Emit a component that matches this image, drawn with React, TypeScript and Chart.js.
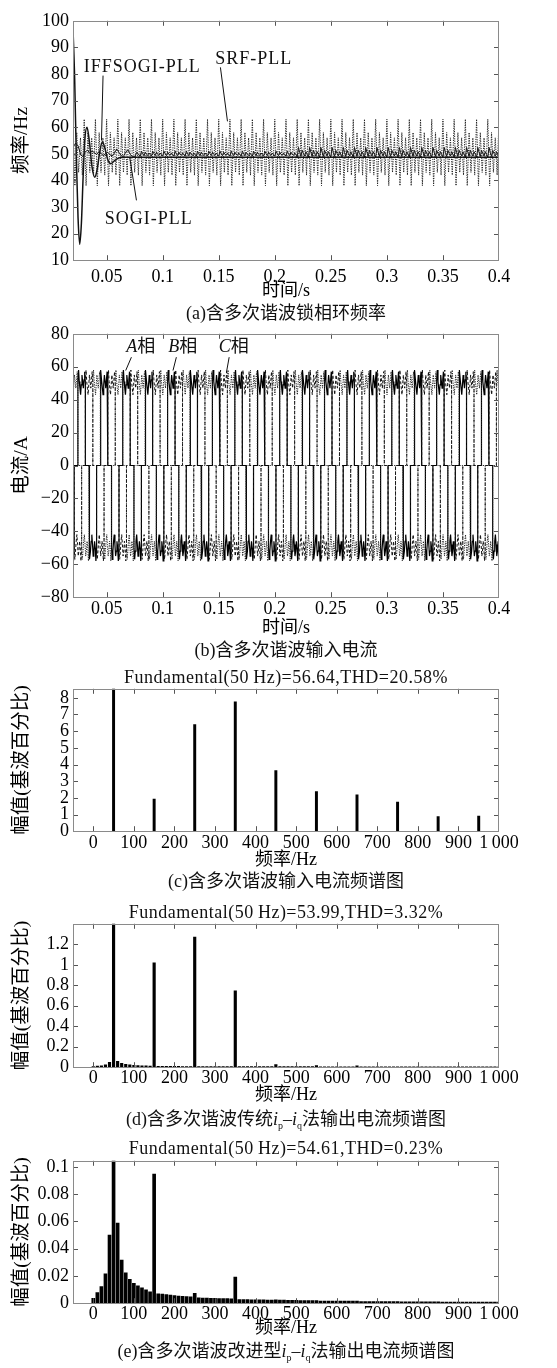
import React, { useEffect, useRef } from 'react';
import { Chart, registerables } from 'chart.js';

Chart.register(...registerables);

const SERIF = "'Liberation Serif', 'Noto Sans CJK SC', serif";

// ---------------- (a) PLL frequency ----------------
const TIME_MIN = 0.02;
const TIME_MAX = 0.4;
const TIME_TICKS = [0.05, 0.1, 0.15, 0.2, 0.25, 0.3, 0.35, 0.4];
const TIME_TICK_LABELS = ['0.05', '0.1', '0.15', '0.2', '0.25', '0.3', '0.35', '0.4'];
const PLL_Y_TICKS = [10, 20, 30, 40, 50, 60, 70, 80, 90, 100];
const PLL_Y_LABELS = ['10', '20', '30', '40', '50', '60', '70', '80', '90', '100'];

// SRF-PLL: one 0.01 s period of its steady ripple (Hz)
const SRF_PERIOD = 0.01;
const SRF_CYCLE = [63, 38, 58, 43, 56, 42];

// IFFSOGI-PLL transient (s, Hz)
const IFF_T = [0.02, 0.0215, 0.023, 0.0245, 0.026, 0.0275, 0.029, 0.0305, 0.0325, 0.0345, 0.037, 0.0394, 0.0415, 0.0438, 0.0462, 0.0485, 0.051, 0.0537, 0.0565, 0.06, 0.0645, 0.4];
const IFF_V = [97, 78, 48, 26, 16, 24, 41, 55, 60, 55, 45, 41.2, 44, 50.5, 54.5, 52, 47.8, 46.3, 47.2, 48.3, 48.7, 48.7];

// SOGI-PLL start-up (s, Hz) and its ripple periods afterwards
const SOGI_EARLY_T = [0.02, 0.0225, 0.0245, 0.027, 0.029, 0.031, 0.033, 0.035, 0.037, 0.039, 0.041, 0.043, 0.045, 0.047, 0.049, 0.051, 0.053, 0.055, 0.057, 0.059, 0.061, 0.063, 0.065, 0.067, 0.069, 0.071, 0.073, 0.075, 0.077, 0.0785];
const SOGI_EARLY_V = [52.5, 54, 53, 49.5, 49, 50.8, 51.3, 50.2, 51, 50.5, 49.7, 50.8, 50.2, 49.3, 50, 50.6, 49.6, 49.2, 50.3, 51.8, 50.5, 49.3, 49, 50.6, 51.5, 49.8, 49, 48.8, 50.6, 49.6];
const SOGI_PERIOD = 0.01;
const SOGI_MID_START = 0.08;
const SOGI_LATE_START = 0.22;
const SOGI_CYCLE_MID = [49.1, 51.0, 50.0, 49.3, 50.6, 49.8, 49.4, 50.3, 49.7];
const SOGI_CYCLE_LATE = [48.7, 52.4, 50.5, 49.0, 51.3, 50.1, 49.2, 50.8, 49.8];

// ---------------- (b) three-phase input current ----------------
const CUR_Y_TICKS = [-80, -60, -40, -20, 0, 20, 40, 60, 80];
const CUR_Y_LABELS = ['\u221280', '\u221260', '\u221240', '\u221220', '0', '20', '40', '60', '80'];
const CURRENT_PERIOD = 0.02;
const PHASE_A_T0 = 0.0227;
const POS_BLOCK = [52, 58, 51, 47, 43, 49, 55, 51, 47, 52, 57, 50];
const NEG_BLOCK = [-50, -57, -52, -46, -42, -48, -55, -52, -46, -50, -58, -51];

// ---------------- spectra ----------------
const HZ_TICKS = [0, 100, 200, 300, 400, 500, 600, 700, 800, 900, 1000];
const HZ_LABELS = ['0', '100', '200', '300', '400', '500', '600', '700', '800', '900', '1\u2009000'];
const HZ_MIN = -50;
const HZ_MAX = 1000;

const C_FREQ = [50, 150, 250, 350, 450, 550, 650, 750, 850, 950];
const C_AMP = [100, 1.92, 6.4, 7.76, 3.64, 2.38, 2.18, 1.74, 0.87, 0.91];
const C_Y_TICKS = [0, 1, 2, 3, 4, 5, 6, 7, 8];
const C_Y_LABELS = ['0', '1', '2', '3', '4', '5', '6', '7', '8'];

const BIN_STEP_HZ = 10;
const D_AMP = [
  0.006, 0.012, 0.014, 0.022, 0.048, 100, 0.058, 0.038, 0.028, 0.022,
  0.019, 0.016, 0.014, 0.013, 0.012, 1.02, 0.009, 0.009, 0.008, 0.008,
  0.008, 0.008, 0.007, 0.007, 0.007, 1.27, 0.007, 0.007, 0.007, 0.006,
  0.006, 0.006, 0.006, 0.006, 0.006, 0.746, 0.006, 0.005, 0.005, 0.005,
  0.005, 0.005, 0.005, 0.005, 0.005, 0.026, 0.005, 0.005, 0.005, 0.005,
  0.005, 0.005, 0.005, 0.005, 0.005, 0.015, 0.004, 0.004, 0.004, 0.004,
  0.004, 0.004, 0.004, 0.004, 0.004, 0.014, 0.004, 0.004, 0.004, 0.004,
  0.004, 0.004, 0.004, 0.004, 0.004, 0.004, 0.004, 0.004, 0.004, 0.004,
  0.003, 0.003, 0.003, 0.003, 0.003, 0.003, 0.003, 0.003, 0.003, 0.003,
  0.003, 0.003, 0.003, 0.003, 0.003, 0.003, 0.003, 0.003, 0.003, 0.003,
  0.003,
];
const D_Y_TICKS = [0, 0.2, 0.4, 0.6, 0.8, 1, 1.2];
const D_Y_LABELS = ['0', '0.2', '0.4', '0.6', '0.8', '1', '1.2'];

const E_AMP = [
  0.0035, 0.0078, 0.0122, 0.0215, 0.05, 100, 0.0587, 0.0316, 0.0222, 0.0175,
  0.0146, 0.0128, 0.0112, 0.0098, 0.0083, 0.0947, 0.0068, 0.0066, 0.0063, 0.0059,
  0.0055, 0.0052, 0.005, 0.0048, 0.0046, 0.0073, 0.004, 0.0038, 0.0037, 0.0036,
  0.0035, 0.0034, 0.0033, 0.0033, 0.0032, 0.0192, 0.0027, 0.0026, 0.0026, 0.0025,
  0.0025, 0.0024, 0.0024, 0.0023, 0.0023, 0.0025, 0.0022, 0.0022, 0.0021, 0.0021,
  0.0021, 0.002, 0.002, 0.002, 0.0019, 0.002, 0.0016, 0.0016, 0.0016, 0.0016,
  0.0015, 0.0015, 0.0015, 0.0015, 0.0015, 0.0016, 0.0012, 0.0012, 0.0012, 0.0012,
  0.0011, 0.0011, 0.0011, 0.0011, 0.0011, 0.0011, 0.001, 0.001, 0.001, 0.001,
  0.001, 0.001, 0.001, 0.001, 0.001, 0.001, 0.0009, 0.0009, 0.0009, 0.0009,
  0.0009, 0.0009, 0.0009, 0.0009, 0.0009, 0.0009, 0.0008, 0.0008, 0.0008, 0.0008,
  0.0008,
];
const E_Y_TICKS = [0, 0.02, 0.04, 0.06, 0.08, 0.1];
const E_Y_LABELS = ['0', '0.02', '0.04', '0.06', '0.08', '0.1'];

// ---------------- annotations (data coordinates) ----------------
type Note = { parts: { text: string; italic?: boolean }[]; at: [number, number]; from: [number, number]; to: [number, number]; spacing: string };
const PLL_NOTES: Note[] = [
  { parts: [{ text: 'IFFSOGI-PLL' }], at: [0.0818, 82.6], from: [0.0468, 79.4], to: [0.0454, 55], spacing: '1px' },
  { parts: [{ text: 'SRF-PLL' }], at: [0.1813, 85.6], from: [0.1515, 82.5], to: [0.1578, 62.2], spacing: '1px' },
  { parts: [{ text: 'SOGI-PLL' }], at: [0.0876, 25.4], from: [0.0766, 32.5], to: [0.0706, 48.7], spacing: '1px' },
];
const CUR_NOTES: Note[] = [
  { parts: [{ text: 'A', italic: true }, { text: '相' }], at: [0.0804, 71.7], from: [0.0721, 65.8], to: [0.067, 57.7], spacing: '0px' },
  { parts: [{ text: 'B', italic: true }, { text: '相' }], at: [0.1179, 71.7], from: [0.1122, 65.8], to: [0.1092, 57.7], spacing: '0px' },
  { parts: [{ text: 'C', italic: true }, { text: '相' }], at: [0.1634, 71.7], from: [0.1593, 65.8], to: [0.1569, 56.7], spacing: '0px' },
];

// ---------------- builders ----------------
function pairs(ts: number[], vs: number[]) {
  return ts.map((t, i) => ({ x: t, y: vs[i] }));
}
function tileCycle(cycle: number[], period: number, t0: number, t1: number) {
  const dt = period / cycle.length;
  const pts: { x: number; y: number }[] = [];
  for (let k = 0; ; k++) {
    const t = t0 + k * dt;
    if (t > t1 + 1e-9) break;
    pts.push({ x: t, y: cycle[k % cycle.length] });
  }
  return pts;
}
function buildPhase(shift: number) {
  const pts: { x: number; y: number }[] = [];
  const deg = CURRENT_PERIOD / 360;
  for (let k = -1; k <= 20; k++) {
    const base = PHASE_A_T0 + shift + k * CURRENT_PERIOD;
    const ps = base + 30 * deg, pe = base + 150 * deg;
    pts.push({ x: ps, y: 0 });
    POS_BLOCK.forEach((v, i) => pts.push({ x: ps + ((pe - ps) * i) / (POS_BLOCK.length - 1), y: v }));
    pts.push({ x: pe, y: 0 });
    const ns = base + 210 * deg, ne = base + 330 * deg;
    pts.push({ x: ns, y: 0 });
    NEG_BLOCK.forEach((v, i) => pts.push({ x: ns + ((ne - ns) * i) / (NEG_BLOCK.length - 1), y: v }));
    pts.push({ x: ne, y: 0 });
  }
  return pts;
}
function bins(amps: number[]) {
  return amps.map((v, i) => ({ x: i * BIN_STEP_HZ, y: v }));
}

// ---------------- layout ----------------
const W = 557;
const PLOT_LEFT = 73;
const PLOT_RIGHT = 499;
const PAD_TOP = 14;
const PAD_BOTTOM = 4;
const HALF_LINE = 10.8;

type Panel = { plotTop: number; plotBottom: number; xTick: number; xTitle: number };
const PANELS: Panel[] = [
  { plotTop: 20, plotBottom: 260, xTick: 277, xTitle: 291 },
  { plotTop: 333, plotBottom: 597, xTick: 609, xTitle: 628 },
  { plotTop: 688, plotBottom: 831, xTick: 843, xTitle: 860 },
  { plotTop: 923, plotBottom: 1067, xTick: 1078, xTitle: 1095 },
  { plotTop: 1160, plotBottom: 1303, xTick: 1313, xTitle: 1328 },
];
function geo(p: Panel) {
  const H = p.xTitle - p.plotBottom + HALF_LINE;
  const pad = Math.max(0, p.xTick - p.plotBottom - HALF_LINE);
  return { top: p.plotTop - PAD_TOP, height: Math.round(PAD_TOP + (p.plotBottom - p.plotTop) + H + PAD_BOTTOM), H, pad };
}

const font = (size: number) => ({ family: SERIF, size, lineHeight: 1.2 });

function xAxis(min: number, max: number, ticks: number[], labels: string[], title: string, p: Panel) {
  const g = geo(p);
  return {
    type: 'linear', min, max, bounds: 'data', offset: false,
    grid: { display: false, drawTicks: false, offset: false },
    border: { display: false },
    ticks: { padding: g.pad, color: '#000', font: font(18), maxRotation: 0, autoSkip: false, callback: (_v: any, i: number) => labels[i] ?? '' },
    afterBuildTicks: (s: any) => { s.ticks = ticks.map((v) => ({ value: v })); },
    afterFit: (s: any) => { s.height = g.H; },
    title: { display: true, text: title, color: '#000', font: font(18), padding: 0 },
  };
}
function yAxis(min: number, max: number, ticks: number[], labels: string[], title: string) {
  return {
    type: 'linear', min, max, bounds: 'data',
    grid: { display: false, drawTicks: false },
    border: { display: false },
    ticks: { padding: 4, color: '#000', font: font(18), autoSkip: false, callback: (_v: any, i: number) => labels[i] ?? '' },
    afterBuildTicks: (s: any) => { s.ticks = ticks.map((v) => ({ value: v })); },
    afterFit: (s: any) => { s.width = PLOT_LEFT; },
    title: { display: true, text: title, color: '#000', font: font(19.5), padding: { top: 10, bottom: 0 } },
  };
}

const framePlugin = {
  id: 'matlabFrame',
  afterDatasetsDraw(chart: any) {
    const { ctx, chartArea: a, scales } = chart;
    const xs = scales.x, ys = scales.y;
    const L = 5;
    ctx.save();
    ctx.strokeStyle = '#555';
    ctx.lineWidth = 1;
    ctx.beginPath();
    for (const t of xs.ticks) {
      const px = Math.round(xs.getPixelForValue(t.value)) + 0.5;
      if (px <= a.left + 2 || px >= a.right - 2) continue;
      ctx.moveTo(px, a.bottom); ctx.lineTo(px, a.bottom - L);
      ctx.moveTo(px, a.top); ctx.lineTo(px, a.top + L);
    }
    for (const t of ys.ticks) {
      const py = Math.round(ys.getPixelForValue(t.value)) + 0.5;
      if (py <= a.top + 2 || py >= a.bottom - 2) continue;
      ctx.moveTo(a.left, py); ctx.lineTo(a.left + L, py);
      ctx.moveTo(a.right, py); ctx.lineTo(a.right - L, py);
    }
    ctx.stroke();
    ctx.strokeStyle = '#8a8a8a';
    ctx.strokeRect(Math.round(a.left) + 0.5, Math.round(a.top) + 0.5, Math.round(a.right - a.left) - 1, Math.round(a.bottom - a.top));
    ctx.restore();
  },
};

function notesPlugin(notes: Note[]) {
  return {
    id: 'notes',
    afterDatasetsDraw(chart: any) {
      const { ctx, scales: { x, y } } = chart;
      ctx.save();
      ctx.strokeStyle = '#111';
      ctx.fillStyle = '#111';
      ctx.lineWidth = 1;
      ctx.textBaseline = 'middle';
      ctx.textAlign = 'left';
      for (const n of notes) {
        ctx.beginPath();
        ctx.moveTo(x.getPixelForValue(n.from[0]), y.getPixelForValue(n.from[1]));
        ctx.lineTo(x.getPixelForValue(n.to[0]), y.getPixelForValue(n.to[1]));
        ctx.stroke();
        const cx = x.getPixelForValue(n.at[0]);
        const cy = y.getPixelForValue(n.at[1]);
        (ctx as any).letterSpacing = n.spacing;
        const fonts = n.parts.map((p) => `${p.italic ? 'italic ' : ''}18px ${SERIF}`);
        const widths = n.parts.map((p, i) => { ctx.font = fonts[i]; return ctx.measureText(p.text).width; });
        let px = cx - widths.reduce((s, w) => s + w, 0) / 2;
        n.parts.forEach((p, i) => { ctx.font = fonts[i]; ctx.fillText(p.text, px, cy); px += widths[i]; });
      }
      ctx.restore();
    },
  };
}

const baseOptions = {
  responsive: false,
  animation: false,
  devicePixelRatio: 1,
  events: [],
  layout: { padding: { top: PAD_TOP, right: W - PLOT_RIGHT, bottom: PAD_BOTTOM, left: 0 } },
  plugins: { legend: { display: false }, tooltip: { enabled: false } },
};

function makeConfigs(): any[] {
  const srf = tileCycle(SRF_CYCLE, SRF_PERIOD, TIME_MIN, TIME_MAX);
  const sogi = [
    ...pairs(SOGI_EARLY_T, SOGI_EARLY_V),
    ...tileCycle(SOGI_CYCLE_MID, SOGI_PERIOD, SOGI_MID_START, SOGI_LATE_START - 1e-4),
    ...tileCycle(SOGI_CYCLE_LATE, SOGI_PERIOD, SOGI_LATE_START, TIME_MAX),
  ];
  const iff = pairs(IFF_T, IFF_V);

  const cfgA = {
    type: 'line',
    data: {
      datasets: [
        { label: 'SRF-PLL', data: srf, borderColor: '#222', borderWidth: 1, borderDash: [1.2, 1.2], pointRadius: 0, tension: 0 },
        { label: 'SOGI-PLL', data: sogi, borderColor: '#111', borderWidth: 1, pointRadius: 0, tension: 0 },
        { label: 'IFFSOGI-PLL', data: iff, borderColor: '#111', borderWidth: 1.5, pointRadius: 0, cubicInterpolationMode: 'monotone' },
      ],
    },
    options: {
      ...baseOptions,
      scales: {
        x: xAxis(TIME_MIN, TIME_MAX, TIME_TICKS, TIME_TICK_LABELS, '时间/s', PANELS[0]),
        y: yAxis(10, 100, PLL_Y_TICKS, PLL_Y_LABELS, '频率/Hz'),
      },
    },
    plugins: [notesPlugin(PLL_NOTES), framePlugin],
  };

  const third = CURRENT_PERIOD / 3;
  const cfgB = {
    type: 'line',
    data: {
      datasets: [
        { label: 'C', data: buildPhase(2 * third), borderColor: '#222', borderWidth: 1, borderDash: [1.2, 1.2], pointRadius: 0, tension: 0 },
        { label: 'B', data: buildPhase(third), borderColor: '#111', borderWidth: 1, borderDash: [3, 2], pointRadius: 0, tension: 0 },
        { label: 'A', data: buildPhase(0), borderColor: '#000', borderWidth: 1.2, pointRadius: 0, tension: 0 },
      ],
    },
    options: {
      ...baseOptions,
      scales: {
        x: xAxis(TIME_MIN, TIME_MAX, TIME_TICKS, TIME_TICK_LABELS, '时间/s', PANELS[1]),
        y: yAxis(-80, 80, CUR_Y_TICKS, CUR_Y_LABELS, '电流/A'),
      },
    },
    plugins: [notesPlugin(CUR_NOTES), framePlugin],
  };

  const barCfg = (data: any[], thickness: number, yMax: number, ticks: number[], labels: string[], p: Panel) => ({
    type: 'bar',
    data: { datasets: [{ data, backgroundColor: '#000', borderWidth: 0, barThickness: thickness, clip: 0 }] },
    options: {
      ...baseOptions,
      scales: {
        x: xAxis(HZ_MIN, HZ_MAX, HZ_TICKS, HZ_LABELS, '频率/Hz', p),
        y: yAxis(0, yMax, ticks, labels, '幅值(基波百分比)'),
      },
    },
    plugins: [framePlugin],
  });

  const cfgC = barCfg(C_FREQ.map((f, i) => ({ x: f, y: C_AMP[i] })), 2.3, 8.54, C_Y_TICKS, C_Y_LABELS, PANELS[2]);
  const cfgD = barCfg(bins(D_AMP), 2.5, 1.4, D_Y_TICKS, D_Y_LABELS, PANELS[3]);
  const cfgE = barCfg(bins(E_AMP), 3, 0.1044, E_Y_TICKS, E_Y_LABELS, PANELS[4]);
  return [cfgA, cfgB, cfgC, cfgD, cfgE];
}

const TEXT_STYLE: React.CSSProperties = {
  position: 'absolute',
  left: 0,
  width: 2 * ((PLOT_LEFT + PLOT_RIGHT) / 2),
  textAlign: 'center',
  fontFamily: SERIF,
  fontSize: 18,
  lineHeight: '22px',
  height: 22,
  whiteSpace: 'nowrap',
  color: '#111',
};

const Sub = ({ c }: { c: string }) => (
  <span style={{ fontSize: 10, position: 'relative', top: 4 }}>{c}</span>
);

export default function App() {
  const r0 = useRef<HTMLCanvasElement>(null);
  const r1 = useRef<HTMLCanvasElement>(null);
  const r2 = useRef<HTMLCanvasElement>(null);
  const r3 = useRef<HTMLCanvasElement>(null);
  const r4 = useRef<HTMLCanvasElement>(null);
  const refs = [r0, r1, r2, r3, r4];

  useEffect(() => {
    const cfgs = makeConfigs();
    const charts = cfgs.map((c, i) => new Chart(refs[i].current as HTMLCanvasElement, c));
    return () => charts.forEach((c) => c.destroy());
  }, []);

  const text = (cy: number, content: React.ReactNode, extra?: React.CSSProperties) => (
    <div style={{ ...TEXT_STYLE, top: cy - 11, ...extra }}>{content}</div>
  );

  return (
    <div style={{ position: 'absolute', left: 0, top: 0, width: W, height: 1368, background: '#fff', overflow: 'hidden' }}>
      {PANELS.map((p, i) => {
        const g = geo(p);
        return (
          <canvas key={i} ref={refs[i]} width={W} height={g.height}
            style={{ position: 'absolute', left: 0, top: g.top, width: W, height: g.height }} />
        );
      })}
      {text(313, '(a)含多次谐波锁相环频率')}
      {text(650, '(b)含多次谐波输入电流')}
      {text(677, 'Fundamental(50\u2009Hz)=56.64,THD=20.58%', { letterSpacing: '0.5px' })}
      {text(881, '(c)含多次谐波输入电流频谱图')}
      {text(912, 'Fundamental(50\u2009Hz)=53.99,THD=3.32%', { letterSpacing: '0.5px' })}
      {text(1119, <>(d)含多次谐波传统<i>i</i><Sub c="p" />–<i>i</i><Sub c="q" />法输出电流频谱图</>)}
      {text(1148, 'Fundamental(50\u2009Hz)=54.61,THD=0.23%', { letterSpacing: '0.5px' })}
      {text(1351, <>(e)含多次谐波改进型<i>i</i><Sub c="p" />–<i>i</i><Sub c="q" />法输出电流频谱图</>)}
    </div>
  );
}
